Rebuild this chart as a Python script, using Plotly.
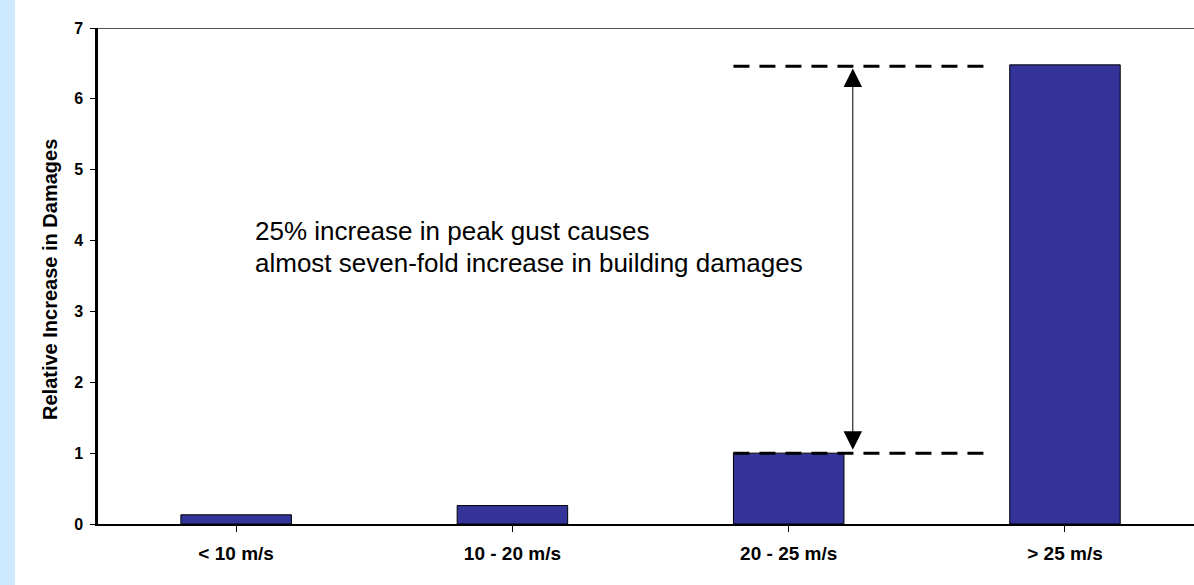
import plotly.graph_objects as go

categories = ["< 10 m/s", "10 - 20 m/s", "20 - 25 m/s", "> 25 m/s"]
values = [0.13, 0.26, 1.0, 6.48]
y_ticks = [0, 1, 2, 3, 4, 5, 6, 7]
ref_levels = [1.0, 6.46]
note_lines = ["25% increase in peak gust causes",
              "almost seven-fold increase in building damages"]
y_title = "Relative Increase in Damages"

fig = go.Figure()
fig.add_trace(go.Bar(
    x=list(range(len(categories))), y=values, width=0.4,
    marker=dict(color="#333399", line=dict(color="#000000", width=1)),
    hoverinfo="skip",
))

# Dashed reference lines
for lv in ref_levels:
    fig.add_shape(type="line", xref="x", yref="y", x0=1.8, x1=2.72, y0=lv, y1=lv,
                  line=dict(color="#000000", width=3, dash="16px,10px"), layer="above")

# Double-headed arrow
fig.add_annotation(x=2.232, y=6.43, ax=2.232, ay=1.025, axref="x", ayref="y",
                   xref="x", yref="y", text="", showarrow=True,
                   arrowhead=2, arrowside="end+start", arrowsize=3.7, arrowwidth=1,
                   arrowcolor="#000000", standoff=0, startstandoff=0)

# Text note
fig.add_annotation(x=0.06, y=4.13, xref="x", yref="y", xanchor="left", yanchor="middle",
                   text=note_lines[0], showarrow=False,
                   font=dict(family="Liberation Sans, Arial", size=26, color="#000000"))
fig.add_annotation(x=0.06, y=3.68, xref="x", yref="y", xanchor="left", yanchor="middle",
                   text=note_lines[1], showarrow=False,
                   font=dict(family="Liberation Sans, Arial", size=26, color="#000000"))

# Y-axis title
fig.add_annotation(x=-48/1096, y=0.492, xref="paper", yref="paper", text=y_title,
                   textangle=-90, showarrow=False, xanchor="center", yanchor="middle",
                   font=dict(family="Liberation Sans, Arial", size=20, color="#000000",
                             weight="bold"))

# Left light-blue strip
fig.add_shape(type="rect", xref="paper", yref="paper", x0=-98/1096, x1=-83/1096,
              y0=-0.2, y1=1.2, fillcolor="#cce9ff", line=dict(width=0), layer="below")

# Top border line at y=7
fig.add_shape(type="line", xref="paper", yref="y", x0=0, x1=1, y0=7, y1=7,
              line=dict(color="#555555", width=2))

fig.update_layout(
    width=1194, height=585,
    margin=dict(l=98, r=0, t=27.5, b=60.5),
    paper_bgcolor="#ffffff", plot_bgcolor="#ffffff",
    showlegend=False,
    font=dict(family="Liberation Sans, Arial", color="#000000"),
    xaxis=dict(
        range=[-0.5, 3.467],
        tickmode="array", tickvals=list(range(len(categories))), ticktext=categories,
        tickson="boundaries", ticks="outside", ticklen=6, tickwidth=1, tickcolor="#000000",
        showline=True, linecolor="#000000", linewidth=2,
        showgrid=False, zeroline=False,
        tickfont=dict(size=19, weight="bold"),
        ticklabelstandoff=5,
    ),
    yaxis=dict(
        range=[0, 7], tickmode="array", tickvals=y_ticks,
        ticks="outside", ticklen=5, tickwidth=1, tickcolor="#000000",
        showline=True, linecolor="#000000", linewidth=2.5,
        showgrid=False, zeroline=False,
        tickfont=dict(size=16, weight="bold"),
        ticklabelstandoff=4,
    ),
)

fig.write_html("out.html", config={"displayModeBar": False},
               post_script="document.body.style.margin='0';document.body.style.padding='0';")
